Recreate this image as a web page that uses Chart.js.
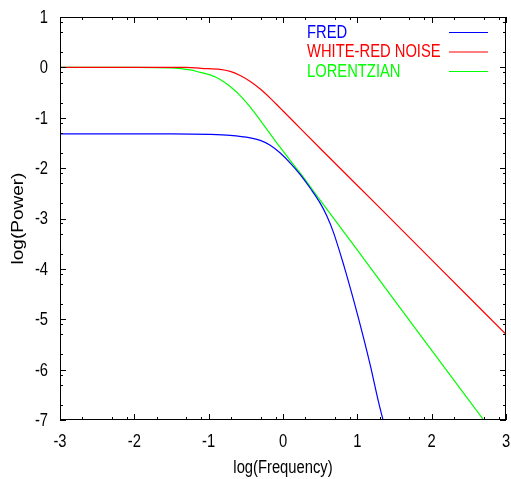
<!DOCTYPE html>
<html>
<head>
<meta charset="utf-8">
<script src="https://cdn.jsdelivr.net/npm/chart.js@4/dist/chart.umd.min.js"></script>
<style>
  html, body { margin: 0; padding: 0; background: #fff; }
  #wrap { width: 511px; height: 479px; }
</style>
</head>
<body>
<div id="wrap"><canvas id="psd"></canvas></div>
<script>
// Data (log10 frequency, log10 power)
const fredX = [-3, -2, -1.5, -1.0, -0.71, -0.44, -0.306, -0.172, -0.037, 0.098, 0.232, 0.367, 0.502, 0.59, 0.68, 0.82, 0.95, 1.07, 1.18, 1.28, 1.346];
const fredY = [-1.32, -1.32, -1.32, -1.33, -1.35, -1.40, -1.45, -1.545, -1.70, -1.90, -2.13, -2.40, -2.70, -2.95, -3.28, -3.94, -4.62, -5.29, -5.95, -6.61, -7.0];

const redX = [-3, -2, -1.3, -1.1, -0.845, -0.71, -0.576, -0.44, -0.306, -0.172, -0.037, 0.098, 0.232, 0.515, 1.31, 2, 3];
const redY = [0, 0, 0, -0.02, -0.04, -0.08, -0.16, -0.28, -0.43, -0.61, -0.81, -1.01, -1.21, -1.63, -2.80, -3.82, -5.30];

const lorX = [-3, -2, -1.5, -1.25, -1.115, -0.98, -0.845, -0.71, -0.576, -0.44, -0.306, -0.172, -0.037, 0.098, 0.232, 0.502, 0.996, 1.85, 2.70];
const lorY = [0, 0, -0.01, -0.05, -0.10, -0.15, -0.24, -0.38, -0.56, -0.79, -1.05, -1.32, -1.59, -1.85, -2.10, -2.64, -3.62, -5.32, -7.0];

const seriesNames = ['FRED', 'WHITE-RED NOISE', 'LORENTZIAN'];
const seriesColors = ['#0000ff', '#ff0000', '#00ff00'];

const xTicks = [-3, -2, -1, 0, 1, 2, 3];
const yTicks = [-7, -6, -5, -4, -3, -2, -1, 0, 1];
const minorOffsets = [0.301, 0.699, 0.903];

const FONT = "'Liberation Sans', Arial, sans-serif";
const SQUEEZE = 0.82; // the original picture is squashed sideways

function pts(xs, ys) {
    return xs.map((v, i) => ({ x: v, y: ys[i] }));
}

function narrowText(ctx, text, x, y, align, rotate) {
    ctx.save();
    ctx.translate(x, y);
    if (rotate) {
        ctx.rotate(-Math.PI / 2);
        ctx.scale(1, SQUEEZE);
    } else {
        ctx.scale(SQUEEZE, 1);
    }
    ctx.textAlign = align;
    ctx.fillText(text, 0, 0);
    ctx.restore();
}

// frame, inward ticks on all four sides, tick labels and axis titles
const framePlugin = {
    id: 'frame',
    afterDatasetsDraw(chart) {
        const { ctx, chartArea: a, scales } = chart;
        const xs = scales.x, ys = scales.y;
        ctx.save();
        ctx.strokeStyle = '#000';
        ctx.lineWidth = 1;
        ctx.strokeRect(a.left + 0.5, a.top + 0.5, a.right - a.left - 1, a.bottom - a.top - 1);
        ctx.beginPath();
        xTicks.forEach((t, i) => {
            const p = Math.round(xs.getPixelForValue(t)) + 0.5;
            ctx.moveTo(p, a.bottom); ctx.lineTo(p, a.bottom - 6);
            ctx.moveTo(p, a.top); ctx.lineTo(p, a.top + 6);
            if (i < xTicks.length - 1) {
                minorOffsets.forEach(o => {
                    const q = Math.round(xs.getPixelForValue(t + o)) + 0.5;
                    ctx.moveTo(q, a.bottom); ctx.lineTo(q, a.bottom - 3);
                    ctx.moveTo(q, a.top); ctx.lineTo(q, a.top + 3);
                });
            }
        });
        yTicks.forEach((t, i) => {
            const p = Math.round(ys.getPixelForValue(t)) + 0.5;
            ctx.moveTo(a.left, p); ctx.lineTo(a.left + 6, p);
            ctx.moveTo(a.right, p); ctx.lineTo(a.right - 6, p);
            if (i < yTicks.length - 1) {
                minorOffsets.forEach(o => {
                    const q = Math.round(ys.getPixelForValue(t + o)) + 0.5;
                    ctx.moveTo(a.left, q); ctx.lineTo(a.left + 3, q);
                    ctx.moveTo(a.right, q); ctx.lineTo(a.right - 3, q);
                });
            }
        });
        ctx.stroke();

        ctx.fillStyle = '#000';
        ctx.font = '18px ' + FONT;
        ctx.textBaseline = 'alphabetic';
        xs.ticks.forEach(t => {
            narrowText(ctx, String(t.value), xs.getPixelForValue(t.value), a.bottom + 27, 'center');
        });
        ctx.textBaseline = 'middle';
        ys.ticks.forEach(t => {
            narrowText(ctx, String(t.value), a.left - 12, ys.getPixelForValue(t.value) + 1, 'right');
        });
        ctx.textBaseline = 'alphabetic';
        narrowText(ctx, 'log(Frequency)', (a.left + a.right) / 2, a.bottom + 53, 'center');
        ctx.textBaseline = 'middle';
        ctx.font = '19px ' + FONT;
        narrowText(ctx, 'log(Power)', 19, (a.top + a.bottom) / 2, 'center', true);
        ctx.restore();
    }
};

// gnuplot-style key: coloured text, sample line to the right
const keyPlugin = {
    id: 'key',
    afterDatasetsDraw(chart) {
        const { ctx, chartArea: a } = chart;
        ctx.save();
        ctx.font = '18px ' + FONT;
        ctx.textBaseline = 'middle';
        seriesNames.forEach((name, i) => {
            const yy = a.top + 15 + i * 19.5;
            ctx.fillStyle = seriesColors[i];
            narrowText(ctx, name, a.left + 247, yy + 1, 'left');
            ctx.strokeStyle = seriesColors[i];
            ctx.lineWidth = 1.2;
            ctx.beginPath();
            ctx.moveTo(a.right - 57, yy + 0.5);
            ctx.lineTo(a.right - 18, yy + 0.5);
            ctx.stroke();
        });
        ctx.restore();
    }
};

const ctx = document.getElementById('psd').getContext('2d');
new Chart(ctx, {
    type: 'line',
    data: {
        datasets: [
            { label: seriesNames[0], data: pts(fredX, fredY), borderColor: seriesColors[0] },
            { label: seriesNames[1], data: pts(redX, redY), borderColor: seriesColors[1] },
            { label: seriesNames[2], data: pts(lorX, lorY), borderColor: seriesColors[2] }
        ]
    },
    options: {
        responsive: true,
        maintainAspectRatio: false,
        animation: false,
        datasets: {
            line: {
                borderWidth: 1.2,
                pointRadius: 0,
                fill: false,
                cubicInterpolationMode: 'monotone'
            }
        },
        layout: { padding: { top: 17, right: 5, left: 0, bottom: 0 } },
        plugins: {
            legend: { display: false },
            tooltip: { enabled: false }
        },
        scales: {
            x: {
                type: 'linear',
                min: -3, max: 3,
                afterBuildTicks: s => { s.ticks = xTicks.map(v => ({ value: v })); },
                afterFit: s => { s.height = 59; },
                grid: { display: false, drawTicks: false },
                border: { display: false },
                ticks: { display: false }
            },
            y: {
                min: -7, max: 1,
                afterBuildTicks: s => { s.ticks = yTicks.map(v => ({ value: v })); },
                afterFit: s => { s.width = 60; },
                grid: { display: false, drawTicks: false },
                border: { display: false },
                ticks: { display: false }
            }
        }
    },
    plugins: [framePlugin, keyPlugin]
});
</script>
</body>
</html>
